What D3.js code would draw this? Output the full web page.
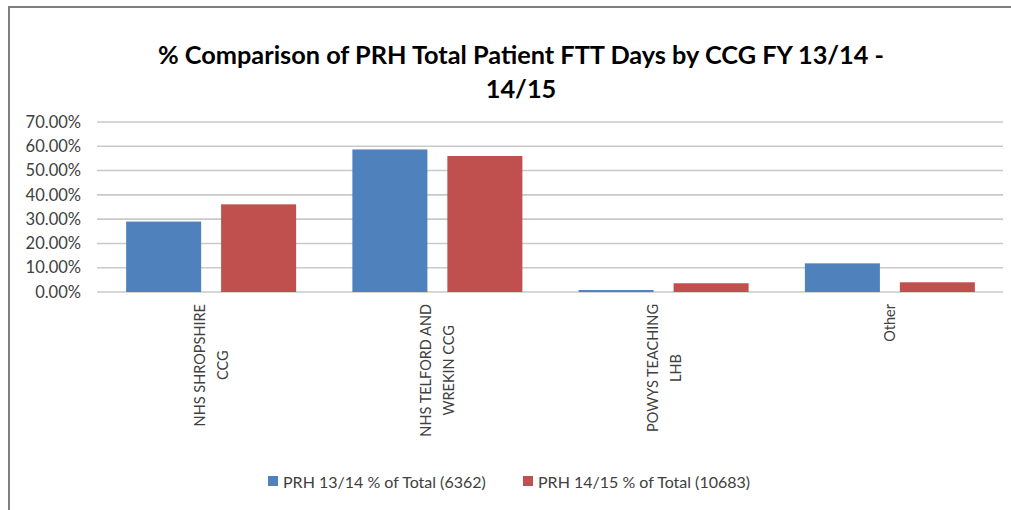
<!DOCTYPE html>
<html>
<head>
<meta charset="utf-8">
<script src="https://cdn.jsdelivr.net/npm/d3@7"></script>
<style>
  body { margin: 0; background: #fff; }
  text { font-family: Lato, "Open Sans", sans-serif; }
</style>
</head>
<body>
<svg id="chart" width="1011" height="510"></svg>
<script>
// data
var categories = ["NHS SHROPSHIRE CCG", "NHS TELFORD AND WREKIN CCG", "POWYS TEACHING LHB", "Other"];
var categoryLines = [["NHS SHROPSHIRE", "CCG"], ["NHS TELFORD AND", "WREKIN CCG"], ["POWYS TEACHING", "LHB"], ["Other"]];
var seriesNames = ["PRH 13/14 % of Total (6362)", "PRH 14/15 % of Total (10683)"];
var values1314 = [0.290, 0.587, 0.008, 0.118];
var values1415 = [0.361, 0.560, 0.036, 0.040];
var yTicks = [0, 0.1, 0.2, 0.3, 0.4, 0.5, 0.6, 0.7];
var colors = ["#4F81BD", "#C0504D"];
var titleLines = ["% Comparison of PRH Total Patient FTT Days by CCG FY 13/14 -", "14/15"];

var svg = d3.select("#chart");

// frame (top and left edges only are visible in the reference)
svg.append("line").attr("x1", 8).attr("x2", 1011).attr("y1", 7).attr("y2", 7)
    .attr("stroke", "#7f7f7f").attr("stroke-width", 2);
svg.append("line").attr("x1", 9).attr("x2", 9).attr("y1", 7).attr("y2", 510)
    .attr("stroke", "#7f7f7f").attr("stroke-width", 2);

var x0 = d3.scaleBand().domain(categories).range([98, 1003]);
var x1 = d3.scaleBand().domain(seriesNames)
    .range([x0.bandwidth() / 2 - 85, x0.bandwidth() / 2 + 85]).paddingInner(0.21);
var y = d3.scaleLinear().domain([0, 0.7]).range([292, 122]);

// title
svg.append("g").selectAll("text").data(titleLines).join("text")
    .attr("x", 521).attr("y", function (d, i) { return 64 + i * 34; })
    .attr("text-anchor", "middle")
    .attr("font-size", 25.3).attr("font-weight", "bold").attr("fill", "#000")
    .text(function (d) { return d; });

// gridlines
svg.append("g").selectAll("line").data(yTicks).join("line")
    .attr("x1", 97).attr("x2", 1003)
    .attr("y1", function (d) { return y(d); }).attr("y2", function (d) { return y(d); })
    .attr("stroke", "#c9c9c9").attr("stroke-width", 1.6);

// y axis labels
var yAxis = d3.axisLeft(y).tickValues(yTicks).tickSize(0).tickPadding(0)
    .tickFormat(function (d) { return d3.format(".2%")(d); });
var gy = svg.append("g").attr("transform", "translate(81,0)").call(yAxis);
gy.select(".domain").remove();
gy.selectAll("text").attr("font-size", 16.5).attr("fill", "#404040")
    .attr("font-family", "Lato, sans-serif");

// bars
var series = [values1314, values1415];
var groups = svg.append("g").selectAll("g").data(categories).join("g")
    .attr("transform", function (d) { return "translate(" + x0(d) + ",0)"; });
groups.selectAll("rect")
    .data(function (d, i) { return seriesNames.map(function (s, k) { return {s: s, k: k, v: series[k][i]}; }); })
    .join("rect")
    .attr("x", function (d) { return x1(d.s); })
    .attr("width", x1.bandwidth())
    .attr("y", function (d) { return y(d.v); })
    .attr("height", function (d) { return y(0) - y(d.v); })
    .attr("fill", function (d) { return colors[d.k]; });

// category labels, rotated, top aligned under the axis
categories.forEach(function (c, i) {
    var lines = categoryLines[i];
    var cx = x0(c) + x0.bandwidth() / 2;
    var g = svg.append("g");
    var texts = g.selectAll("text").data(lines).join("text")
        .attr("font-size", 14.5).attr("fill", "#404040")
        .attr("text-anchor", "middle").attr("dominant-baseline", "central")
        .text(function (d) { return d; });
    var maxLen = d3.max(texts.nodes(), function (n) { return n.getComputedTextLength(); });
    var cy = 304 + maxLen / 2;
    texts.attr("transform", function (d, j) {
        var lx = cx + (j - (lines.length - 1) / 2) * 23;
        return "translate(" + lx + "," + cy + ") rotate(-90)";
    });
});

// legend
var legendX = [268, 523];
var legend = svg.append("g").selectAll("g").data(seriesNames).join("g")
    .attr("transform", function (d, i) { return "translate(" + legendX[i] + ",476)"; });
legend.append("rect").attr("width", 10).attr("height", 10)
    .attr("fill", function (d, i) { return colors[i]; });
legend.append("text").attr("x", 15).attr("y", 5).attr("dominant-baseline", "central")
    .attr("font-size", 16).attr("fill", "#404040")
    .text(function (d) { return d; });
</script>
</body>
</html>
